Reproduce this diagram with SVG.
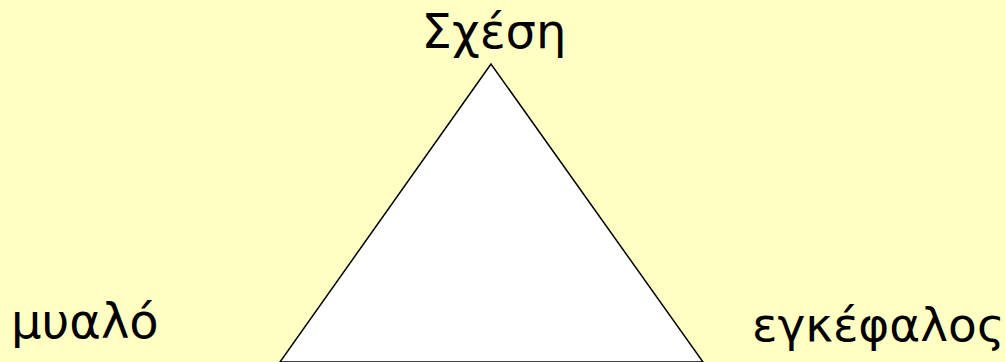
<svg xmlns="http://www.w3.org/2000/svg" width="1005" height="362" viewBox="0 0 1005 362">
<style>
.lbl{font-family:"DejaVu Sans","Noto Sans",sans-serif;font-size:48px;fill:#000}
</style>
<rect width="1005" height="362" fill="#FFFFC4"/>
<g id="triangle">
<polygon points="491,64 280,362 703,362" fill="#FFFFFF" stroke="#000" stroke-width="1.5"/>
</g>
<g id="n-sxesi"><text class="lbl" x="494" y="48" text-anchor="middle">Σχέση</text></g>
<g id="n-myalo"><text class="lbl" x="11" y="338">μυαλό</text></g>
<g id="n-egkefalos"><text class="lbl" x="752" y="341" style="font-size:47px">εγκέφαλος</text></g>
<g id="connectors"></g>
</svg>
